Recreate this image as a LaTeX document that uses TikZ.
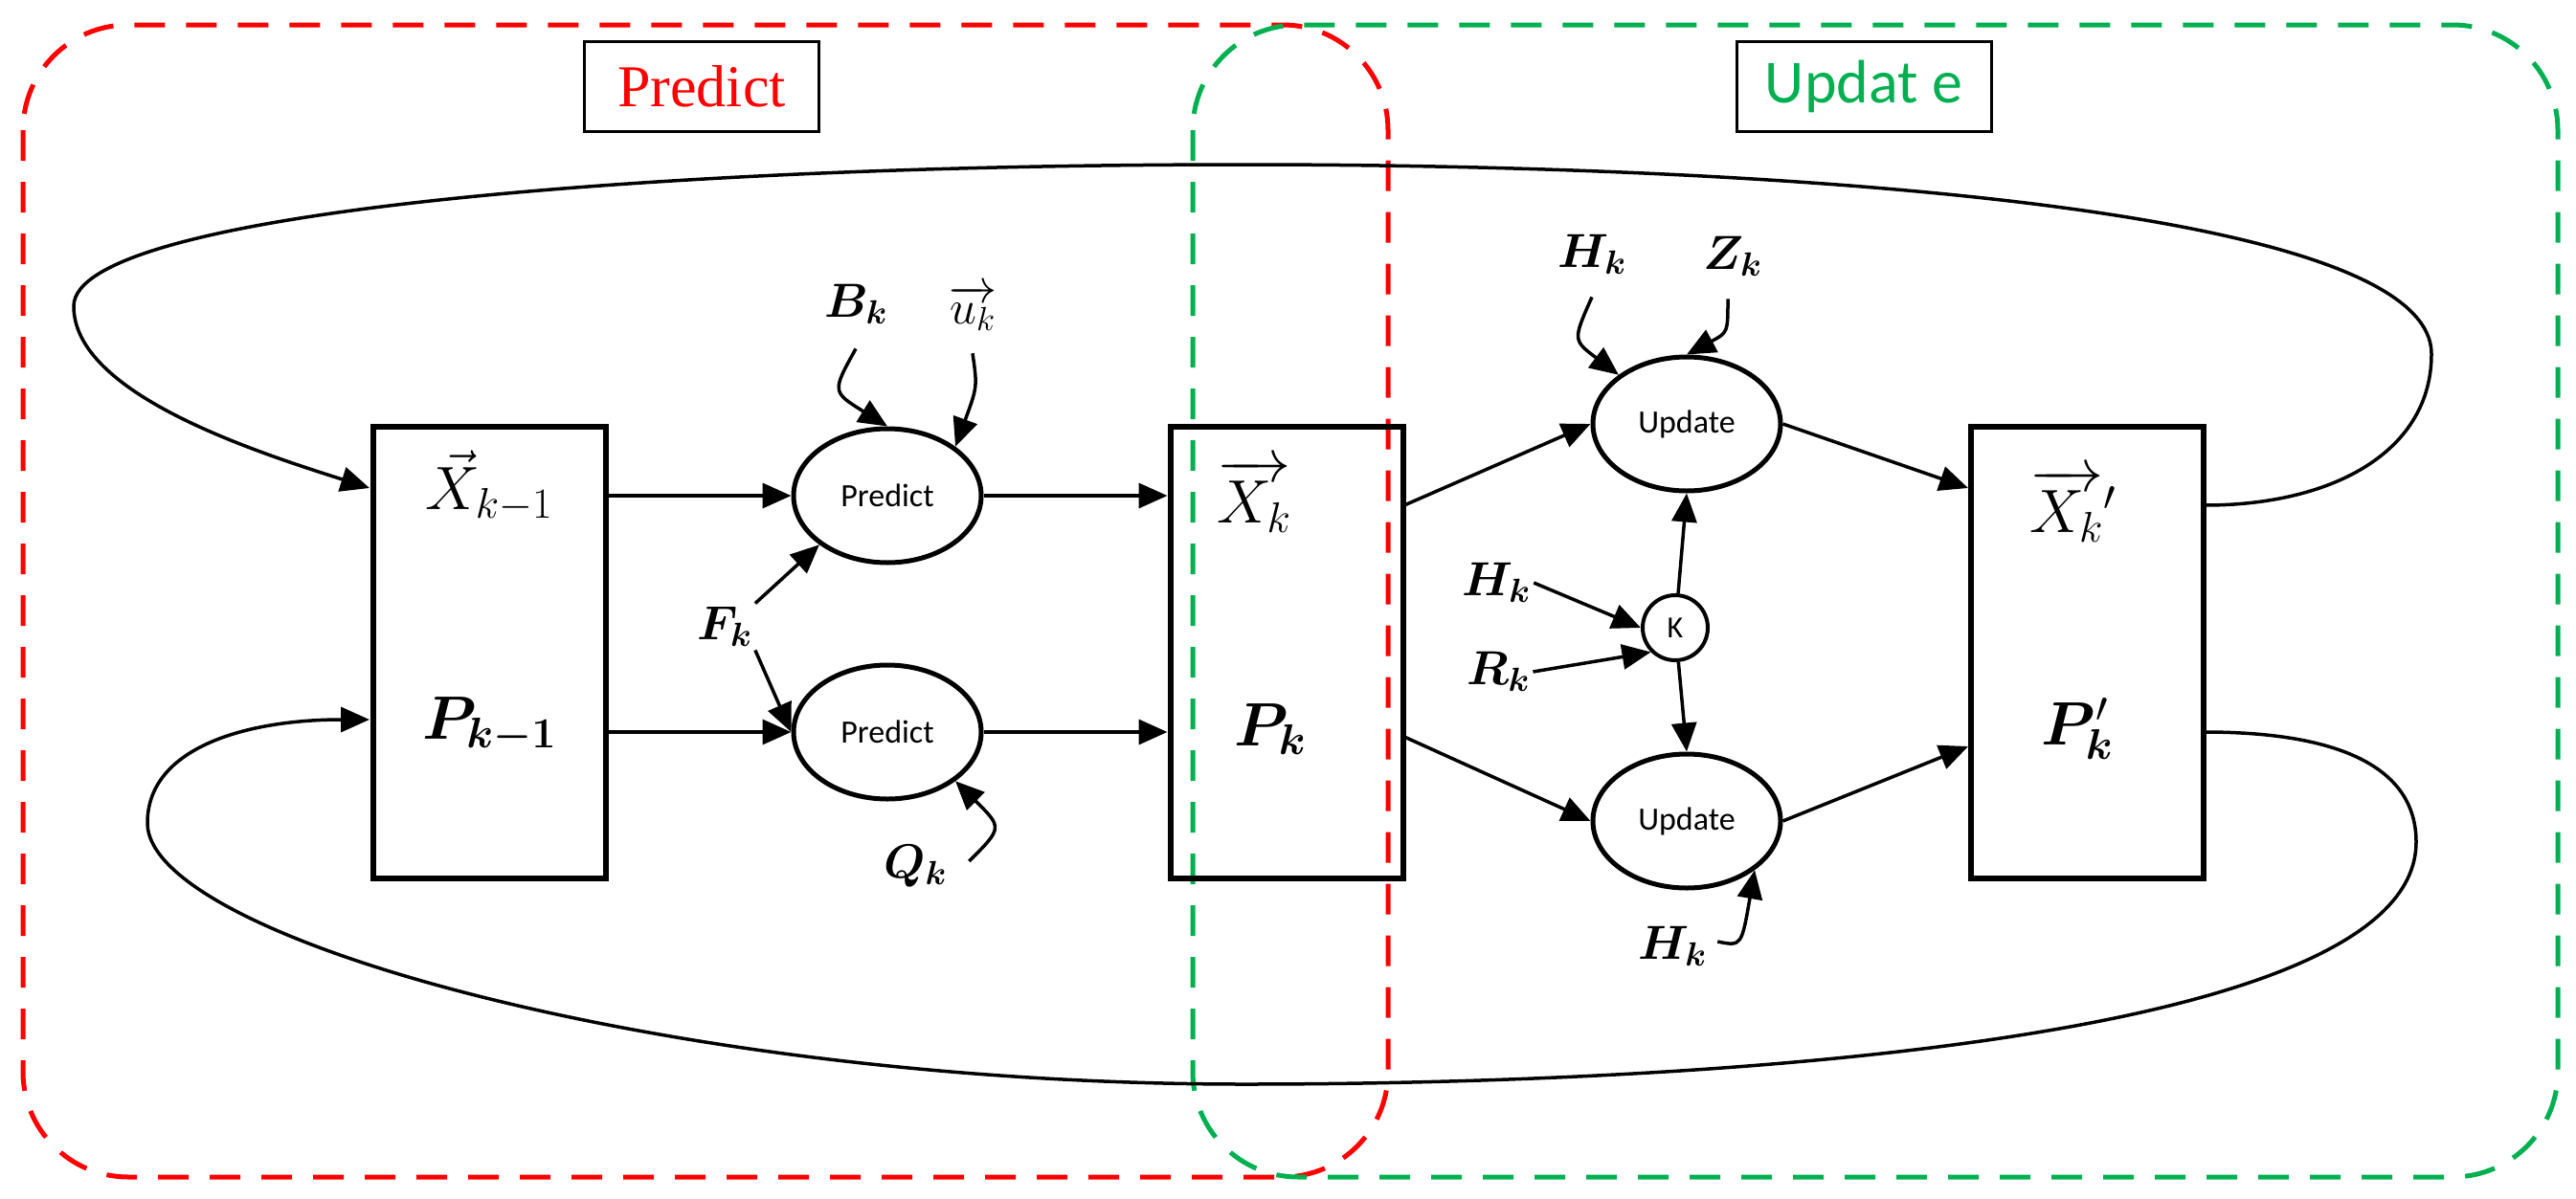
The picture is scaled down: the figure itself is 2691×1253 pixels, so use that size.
\RequirePackage{fix-cm}
\documentclass[tikz,border=0pt]{standalone}
\usepackage{amsmath,bm}
\usepackage{fontspec}
\setmainfont{Liberation Serif}
\newfontfamily\calfont{Carlito}
\usetikzlibrary{shapes.geometric,arrows.meta}
\definecolor{grn}{RGB}{0,176,80}
\begin{document}
\begin{tikzpicture}[x=1pt,y=-1pt,
  box/.style={draw,line width=6pt,minimum width=243pt,minimum height=472pt},
  ell/.style={draw,ellipse,line width=5pt,minimum width=196pt,minimum height=140pt,font=\calfont\fontsize{34}{40}\selectfont},
  lbl/.style={font=\fontsize{64}{70}\selectfont},
  sl/.style={font=\fontsize{50}{60}\selectfont},
  ar/.style={line width=3.5pt,-{Triangle[length=30pt,width=26pt]}},
  dsh/.style={line width=5pt,dash pattern=on 32pt off 22pt,rounded corners=110pt}]
\useasboundingbox (0,0) rectangle (2691,1253);
% group frames
\draw[dsh,red] (24,26) rectangle (1450,1230);
\draw[dsh,grn] (1246,26) rectangle (2672,1230);
\node[draw,line width=3pt,minimum width=245pt,minimum height=94pt,text=red,font=\fontsize{62}{70}\selectfont] (tp) at (733,90) {Predict};
\node[draw,line width=3pt,minimum width=266pt,minimum height=94pt,text=grn,font=\calfont\fontsize{64}{70}\selectfont] (tu) at (1947,90) {Updat e};
% boxes
\node[box] (b1) at (511,682) {};
\node[box] (b2) at (1344,682) {};
\node[box] (b3) at (2180,682) {};
\node[lbl] (x1) at (511,508) {$\vec{X}_{k-1}$};
\node[lbl] (p1) at (511,758) {$\bm{P_{k-1}}$};
\node[lbl] (x2) at (1310,518) {$\overrightarrow{X_k}$};
\node[lbl] (p2) at (1327,762) {$\bm{P_k}$};
\node[lbl] (x3) at (2165,528) {$\overrightarrow{X_k}'$};
\node[lbl] (p3) at (2170,762) {$\bm{P_k}'$};
% ellipses
\node[ell] (e1) at (927,518) {Predict};
\node[ell] (e2) at (927,765) {Predict};
\node[ell] (u1) at (1762,443) {Update};
\node[ell] (u2) at (1762,858) {Update};
\node[draw,circle,line width=4pt,minimum size=68pt,font=\calfont\fontsize{32}{38}\selectfont] (K) at (1750,656) {K};
% small labels
\node[sl] (B) at (894,318) {$\bm{B_k}$};
\node[sl] (u) at (1016,322) {$\overrightarrow{u_k}$};
\node[sl] (F) at (757,655) {$\bm{F_k}$};
\node[sl] (Q) at (956,905) {$\bm{Q_k}$};
\node[sl] (H1) at (1663,266) {$\bm{H_k}$};
\node[sl] (Z) at (1810,268) {$\bm{Z_k}$};
\node[sl] (H2) at (1563,609) {$\bm{H_k}$};
\node[sl] (R) at (1565,702) {$\bm{R_k}$};
\node[sl] (H3) at (1747,989) {$\bm{H_k}$};
% straight connectors
\draw[ar] (b1.east|-e1) -- (e1);
\draw[ar] (b1.east|-e2) -- (e2);
\draw[ar] (e1) -- (b2.west|-e1);
\draw[ar] (e2) -- (b2.west|-e2);
\coordinate (b2a) at (1467,528); \coordinate (b2b) at (1467,770);
\draw[ar] (b2a) -- (u1.west);
\draw[ar] (b2b) -- (u2.west);
\coordinate (b3a) at (2056,510); \coordinate (b3b) at (2056,780);
\draw[ar] (u1.east) -- (b3a);
\draw[ar] (u2.east) -- (b3b);
\draw[ar] (K) -- (u1.south);
\draw[ar] (K) -- (u2.north);
\draw[ar] (H2.east) -- (K.west);
\draw[ar] (R.east) -- (K.south west);
\draw[ar] (F.north east) -- (e1.south west);
\draw[ar] (F.south east) -- (e2.west);
% curved short arrows
\draw[ar] (B.south) ++(0,22) .. controls +(-25,45) .. (e1.north);
\draw[ar] (u.south) ++(0,20) .. controls +(5,35) .. (e1.north east);
\draw[ar] (Q.east) ++(20,-5) .. controls +(35,-35) .. (e2.south east);
\draw[ar] (H1.south) ++(0,20) .. controls +(-20,45) .. (u1.north west);
\draw[ar] (Z.south) ++(-5,20) .. controls +(0,35) .. (u1.north);
\draw[ar] (H3.east) ++(8,-5) .. controls +(25,5) .. (u2.south east);
% feedback loops
\coordinate (s1) at (2303,528);
\coordinate (s2) at (2303,765);
\coordinate (t1) at (386,510);
\coordinate (t2) at (386,752);
\draw[ar] (s1) .. controls (2440,528) and (2540,470) .. (2540,370)
  .. controls (2540,210) and (1800,172) .. (1300,172)
  .. controls (700,172) and (77,220) .. (77,320)
  .. controls (77,410) and (260,470) .. (t1);
\draw[ar] (s2) .. controls (2440,765) and (2524,800) .. (2524,880)
  .. controls (2524,1100) and (1700,1133) .. (1300,1133)
  .. controls (700,1133) and (154,980) .. (154,860)
  .. controls (154,780) and (260,752) .. (t2);
\end{tikzpicture}
\end{document}
